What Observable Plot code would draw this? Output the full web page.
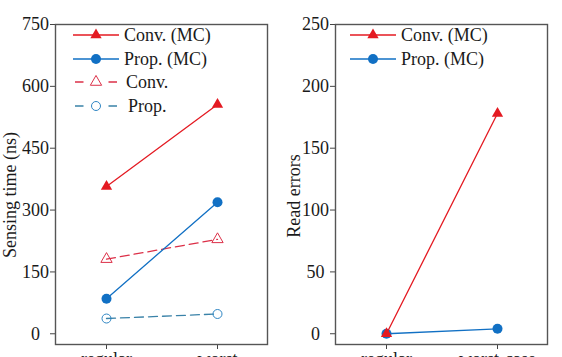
<!DOCTYPE html>
<html>
<head>
<meta charset="utf-8">
<script src="https://cdn.jsdelivr.net/npm/d3@7"></script>
<script src="https://cdn.jsdelivr.net/npm/@observablehq/plot@0.6"></script>
<style>
  html, body { margin: 0; padding: 0; background: #fff; overflow: hidden; }
  #wrap { position: relative; width: 562px; height: 357px; overflow: hidden; }
  #wrap svg { position: absolute; top: 0; }
</style>
</head>
<body>
<div id="wrap"></div>
<script>
// ---- data ----
const conditionsLeft = ["regular", "worst"];
const conditionsRight = ["regular", "worst-case"];

const senseConvMC = [357, 556];
const sensePropMC = [85, 319];
const senseConv = [181, 229];
const senseProp = [37, 48];

const errConvMC = [0, 178];
const errPropMC = [0, 4];

const senseTicks = [0, 150, 300, 450, 600, 750];
const errTicks = [0, 50, 100, 150, 200, 250];

const labelConvMC = "Conv. (MC)";
const labelPropMC = "Prop. (MC)";
const labelConv = "Conv.";
const labelProp = "Prop.";

// ---- styles ----
const FONT = "Liberation Serif, Times New Roman, serif";
const RED = "#e41a22";
const BLUE = "#1170c4";
const RED_D = "#dc3048";
const BLUE_D = "#3a82a8";

const sConvMC = {label: labelConvMC, stroke: RED, dash: null, symbol: "triangle", fill: RED, mstroke: "none", r: 4.2, lw: 1.3};
const sPropMC = {label: labelPropMC, stroke: BLUE, dash: null, symbol: "circle", fill: BLUE, mstroke: "none", r: 5, lw: 1.3};
const sConv = {label: labelConv, stroke: RED_D, dash: "9,5", symbol: "triangle", fill: "none", mstroke: RED_D, r: 4.2, lw: 1.3};
const sProp = {label: labelProp, stroke: BLUE_D, dash: "9,5", symbol: "circle", fill: "none", mstroke: "#2f86c4", r: 4.5, lw: 1.3};

function panel(opts) {
  const {conds, yDomain, yTicks, yTitle, titleX, titleY, series, legendX, legendRows, width, marginRight} = opts;
  const marks = [];
  for (const s of series) {
    const data = conds.map((c, i) => ({cond: c, v: s.values[i]}));
    marks.push(Plot.line(data, {x: "cond", y: "v", stroke: s.style.stroke, strokeWidth: s.style.lw, strokeDasharray: s.style.dash ?? undefined}));
    marks.push(Plot.dot(data, {x: "cond", y: "v", symbol: s.style.symbol, r: s.style.r, fill: s.style.fill, stroke: s.style.mstroke, strokeWidth: 1}));
  }
  const svg = Plot.plot({
    width, height: 357,
    marginLeft: 55, marginRight, marginTop: 24, marginBottom: 13,
    style: {fontFamily: FONT, fontSize: "18px", color: "#1a1a1a", background: "transparent", overflow: "visible"},
    x: {type: "point", domain: conds, padding: 0.45},
    y: {domain: yDomain},
    marks: [
      Plot.axisY(yTicks, {tickSize: 5, tickPadding: 15, textAnchor: "middle", label: null, fontSize: 18, stroke: "#444"}),
      Plot.axisX({tickSize: 5, tickPadding: 3, label: null, fontSize: 18, stroke: "#444"}),
      ...marks,
      Plot.frame({stroke: "#555", strokeWidth: 1.4})
    ]
  });
  const g = d3.select(svg);
  g.append("text")
    .attr("transform", `translate(${titleX},${titleY}) rotate(-90)`)
    .attr("text-anchor", "middle")
    .attr("font-family", FONT).attr("font-size", 18).attr("fill", "#1a1a1a")
    .text(yTitle);
  // legend
  const lg = g.append("g").attr("text-anchor", "start");
  legendRows.forEach((row) => {
    const st = row.style;
    const y = row.y;
    const line = lg.append("line")
      .attr("x1", legendX[0]).attr("x2", legendX[1]).attr("y1", y).attr("y2", y)
      .attr("stroke", st.stroke).attr("stroke-width", st.lw);
    if (st.dash) {
      line.attr("x1", legendX[0] + 2).attr("x2", legendX[1] - 2)
        .attr("stroke-dasharray", `8.5,${(legendX[1] - legendX[0] - 4) - 17}`);
    }
    const cx = (legendX[0] + legendX[1]) / 2;
    const sym = st.symbol === "triangle" ? d3.symbolTriangle : d3.symbolCircle;
    lg.append("path")
      .attr("d", d3.symbol(sym, Math.PI * st.r * st.r)())
      .attr("transform", `translate(${cx},${y})`)
      .attr("fill", st.fill).attr("stroke", st.mstroke).attr("stroke-width", 1);
    lg.append("text")
      .attr("x", row.tx).attr("y", y).attr("dy", "0.34em")
      .attr("text-anchor", "start")
      .attr("font-family", FONT).attr("font-size", 18).attr("fill", "#1a1a1a")
      .text(st.label);
  });
  return svg;
}

const left = panel({
  conds: conditionsLeft,
  yDomain: [-26, 750],
  yTicks: senseTicks,
  yTitle: "Sensing time (ns)",
  titleX: 15.5, titleY: 195,
  width: 281, marginRight: 14,
  series: [
    {values: senseConv, style: sConv},
    {values: senseProp, style: sProp},
    {values: senseConvMC, style: sConvMC},
    {values: sensePropMC, style: sPropMC}
  ],
  legendX: [73, 119],
  legendRows: [
    {style: sConvMC, y: 35, tx: 124},
    {style: sPropMC, y: 59, tx: 124},
    {style: sConv, y: 82, tx: 126},
    {style: sProp, y: 106, tx: 128}
  ]
});
left.style.left = "0px";

const right = panel({
  conds: conditionsRight,
  yDomain: [-8.7, 250],
  yTicks: errTicks,
  yTitle: "Read errors",
  titleX: 19.5, titleY: 196,
  width: 282, marginRight: 15,
  series: [
    {values: errPropMC, style: sPropMC},
    {values: errConvMC, style: sConvMC}
  ],
  legendX: [70, 116],
  legendRows: [
    {style: sConvMC, y: 35, tx: 121},
    {style: sPropMC, y: 59, tx: 121}
  ]
});
right.style.left = "280px";

document.getElementById("wrap").append(left, right);
</script>
</body>
</html>
